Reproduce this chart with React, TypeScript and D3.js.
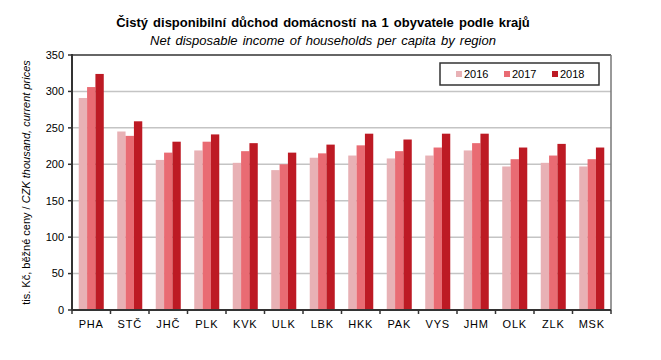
import React from 'react'
import * as d3 from 'd3'

const regions = ['PHA', 'STČ', 'JHČ', 'PLK', 'KVK', 'ULK', 'LBK', 'HKK', 'PAK', 'VYS', 'JHM', 'OLK', 'ZLK', 'MSK']
const years = ['2016', '2017', '2018']
const v2016 = [291, 245, 206, 219, 202, 192, 209, 212, 208, 212, 219, 197, 202, 197]
const v2017 = [306, 239, 216, 231, 218, 200, 215, 226, 218, 223, 229, 207, 212, 207]
const v2018 = [324, 259, 231, 241, 229, 216, 227, 242, 234, 242, 242, 223, 228, 223]
const yTicks = [0, 50, 100, 150, 200, 250, 300, 350]
const colors = ['#e8b1b5', '#e96b73', '#bd1a24']

const W = 661
const H = 360
const left = 72
const right = 611
const top = 55
const bottom = 310
const font = 'Arial, "Liberation Sans", sans-serif'

export default function App() {
  const series = [v2016, v2017, v2018]

  const x = d3.scaleBand<string>()
    .domain(regions)
    .range([left, right])
    .paddingInner(0.35)
    .paddingOuter(0.175)

  const xi = d3.scaleBand<string>()
    .domain(years)
    .range([0, x.bandwidth()])

  const y = d3.scaleLinear().domain([0, 350]).range([bottom, top])

  const step = x.step()
  const edges = d3.range(regions.length + 1).map(i => left + i * step)

  return (
    <svg width={W} height={H} style={{ position: 'absolute', left: 0, top: 0 }} fontFamily={font}>
      <rect width={W} height={H} fill="#fff" />

      {/* titles */}
      <text x={323} y={27} textAnchor="middle" fontSize={13} wordSpacing={1.5} fontWeight="bold" fill="#000">
        Čistý disponibilní důchod domácností na 1 obyvatele podle krajů
      </text>
      <text x={323} y={45} textAnchor="middle" fontSize={13} wordSpacing={1.5} fontStyle="italic" fill="#000">
        Net disposable income of households per capita by region
      </text>

      {/* gridlines */}
      {yTicks.filter(t => t > 0 && t < 350).map(t => (
        <line key={t} x1={left} x2={right} y1={y(t)} y2={y(t)} stroke="#c4c4c4" strokeWidth={1.5} />
      ))}

      {/* bars */}
      {regions.map((r, i) => (
        <g key={r} transform={`translate(${x(r)},0)`}>
          {series.map((s, k) => (
            <rect key={k} x={xi(years[k])} y={y(s[i])} width={xi.bandwidth()}
              height={bottom - y(s[i])} fill={colors[k]} />
          ))}
        </g>
      ))}

      {/* frame */}
      <line x1={left} x2={right} y1={top} y2={top} stroke="#666" strokeWidth={2} />
      <line x1={right} x2={right} y1={top} y2={bottom} stroke="#777" strokeWidth={1.5} />
      <line x1={left} x2={left} y1={top - 1} y2={bottom} stroke="#333" strokeWidth={2} />
      <line x1={left} x2={right} y1={bottom} y2={bottom} stroke="#333" strokeWidth={2} />

      {/* y axis */}
      {yTicks.map(t => (
        <g key={t}>
          <line x1={left - 4} x2={left} y1={y(t)} y2={y(t)} stroke="#333" strokeWidth={1.5} />
          <text x={left - 8} y={y(t)} dy="0.35em" textAnchor="end" fontSize={11} fill="#000">{t}</text>
        </g>
      ))}

      {/* x axis */}
      {edges.map((e, i) => (
        <line key={i} x1={e} x2={e} y1={bottom} y2={bottom + 4} stroke="#333" strokeWidth={1.5} />
      ))}
      {regions.map(r => (
        <text key={r} x={(x(r) ?? 0) + x.bandwidth() / 2} y={bottom + 18} textAnchor="middle"
          fontSize={11} letterSpacing={0.8} fill="#000">{r}</text>
      ))}

      {/* y label */}
      <text transform={`translate(30,${(top + bottom) / 2}) rotate(-90)`} textAnchor="middle" fontSize={11} fill="#000">
        tis. Kč, běžné ceny / <tspan fontStyle="italic">CZK thousand, current prices</tspan>
      </text>

      {/* legend */}
      <rect x={440} y={63} width={159} height={22} fill="#fff" stroke="#333" strokeWidth={1.5} />
      {years.map((yr, k) => (
        <g key={yr} transform={`translate(${456 + k * 48},74)`}>
          <rect x={0} y={-3} width={6} height={6} fill={colors[k]} />
          <text x={8} y={0} dy="0.35em" fontSize={11} fill="#000">{yr}</text>
        </g>
      ))}
    </svg>
  )
}
